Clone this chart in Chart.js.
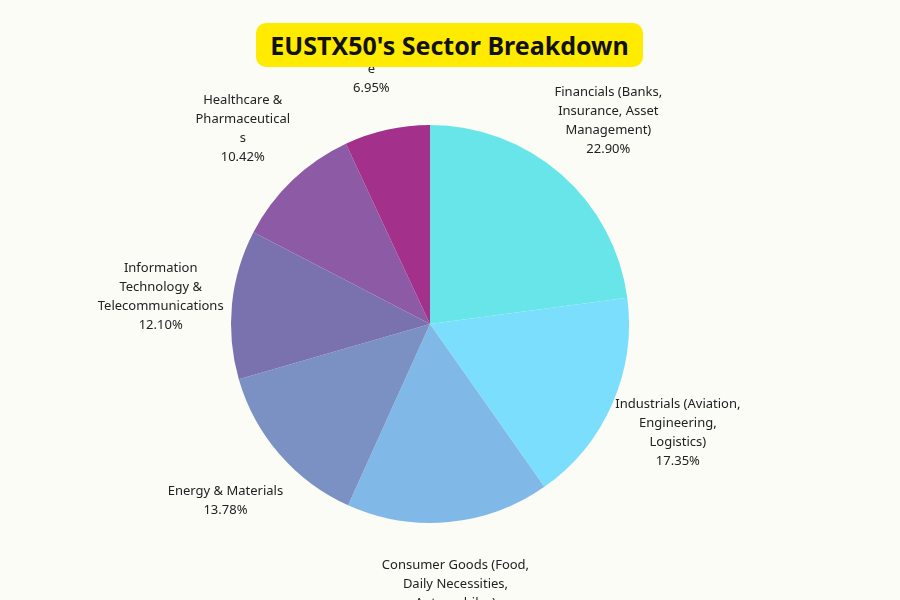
<!DOCTYPE html>
<html><head><meta charset="utf-8">
<script src="https://cdn.jsdelivr.net/npm/chart.js@4"></script>
<style>
body{margin:0;background:#fbfcf6;font-family:"Noto Sans",sans-serif}
#wrap{position:relative;width:900px;height:600px}
#title{position:absolute;left:256px;top:23px;width:387px;height:44px;background:#ffeb00;border-radius:10px;
font-weight:bold;font-size:25px;line-height:44px;text-align:center;color:#111}
</style></head><body>
<div id="wrap"><canvas id="c" width="900" height="600"></canvas><div id="title">EUSTX50's Sector Breakdown</div></div>
<script>
var sectors = [
  ['Financials (Banks,', 'Insurance, Asset', 'Management)'],
  ['Industrials (Aviation,', 'Engineering,', 'Logistics)'],
  ['Consumer Goods (Food,', 'Daily Necessities,', 'Automobiles)'],
  ['Energy & Materials'],
  ['Information', 'Technology &', 'Telecommunications'],
  ['Healthcare &', 'Pharmaceutical', 's'],
  ['Utilities &', 'Infrastructur', 'e']
];
var shares = [22.90, 17.35, 16.50, 13.78, 12.10, 10.42, 6.95];
var colors = ['#68e5e8', '#7cdefd', '#80b9e8', '#7b91c3', '#7a72ae', '#8d5ba6', '#a3318c'];

var outsideLabels = {
  id: 'outsideLabels',
  afterDraw: function (chart) {
    var ctx = chart.ctx;
    var meta = chart.getDatasetMeta(0);
    ctx.save();
    ctx.font = '13px "Noto Sans"';
    ctx.fillStyle = '#222';
    ctx.textAlign = 'center';
    ctx.textBaseline = 'middle';
    meta.data.forEach(function (arc, i) {
      var mid = (arc.startAngle + arc.endAngle) / 2;
      var r = arc.outerRadius * 1.36;
      var lines = sectors[i].concat([shares[i].toFixed(2) + '%']);
      var cx = arc.x + Math.cos(mid) * r;
      var cy = arc.y + Math.sin(mid) * r;
      var lh = 19;
      var y0 = cy - (lines.length - 1) * lh / 2;
      lines.forEach(function (t, k) { ctx.fillText(t, cx, y0 + k * lh); });
    });
    ctx.restore();
  }
};

new Chart(document.getElementById('c'), {
  type: 'pie',
  data: {
    labels: sectors.map(function (s) { return s.join(' '); }),
    datasets: [{ data: shares, backgroundColor: colors, borderWidth: 0 }]
  },
  options: {
    responsive: false,
    animation: false,
    layout: { padding: { top: 125, bottom: 77, left: 231, right: 271 } },
    plugins: { legend: { display: false }, tooltip: { enabled: false } }
  },
  plugins: [outsideLabels]
});
</script>
</body></html>
